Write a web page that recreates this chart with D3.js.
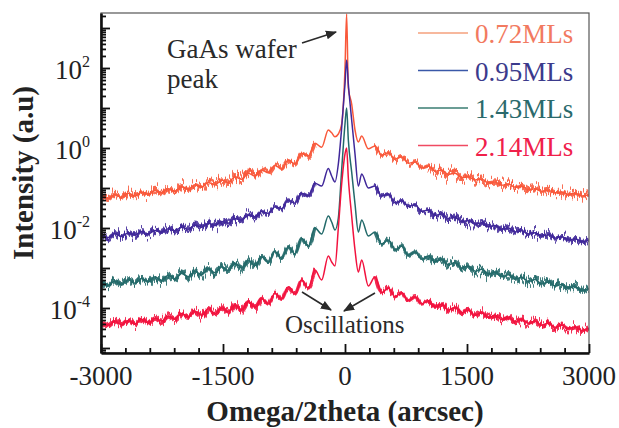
<!DOCTYPE html>
<html>
<head>
<meta charset="utf-8">
<script src="https://cdn.jsdelivr.net/npm/d3@7"></script>
<style>
  html, body { margin: 0; padding: 0; background: #fff; }
  svg { display: block; }
</style>
</head>
<body>
<script>
// sample positions (arcsec) shared by all four scans
const omega = [
  -2993, -2911, -2829, -2747, -2665, -2583, -2501, -2419, -2337, -2255,
  -2173, -2091, -2009, -1927, -1845, -1763, -1681, -1599, -1517, -1435,
  -1353, -1271, -1189, -1107, -1025, -943, -861, -779, -697, -615,
  -533, -451, -369, -287, -205,
  -164, -123, -82, -41, 0, 20, 41, 82, 123, 164,
  205, 287, 369, 451, 533, 615, 697, 779, 861, 943,
  1025, 1107, 1189, 1271, 1353, 1435, 1517, 1599, 1681, 1763,
  1845, 1927, 2009, 2091, 2173, 2255, 2337, 2419, 2501, 2583,
  2665, 2747, 2829, 2911, 2993
];

// log10(intensity), one value per omega sample
const logI072 = [
  -1.18, -1.26, -1.16, -1.23, -1.13, -1.20, -1.10, -1.16, -1.06, -1.12,
  -1.02, -1.08, -0.97, -1.03, -0.92, -0.98, -0.86, -0.92, -0.80, -0.86,
  -0.72, -0.78, -0.63, -0.70, -0.55, -0.62, -0.43, -0.53, -0.30, -0.40,
  -0.13, -0.20, 0.12, 0.02, 0.45,
  0.38, 0.28, 0.35, 0.60, 2.00, 3.35, 1.50, 1.10, 0.45, 0.15,
  0.30, -0.02, 0.05, -0.18, -0.12, -0.28, -0.22, -0.38, -0.35, -0.50,
  -0.45, -0.58, -0.55, -0.66, -0.63, -0.74, -0.72, -0.80, -0.78, -0.87,
  -0.85, -0.93, -0.90, -0.98, -0.96, -1.04, -1.02, -1.08, -1.06, -1.12,
  -1.10, -1.16, -1.13, -1.20, -1.17
];
const logI095 = [
  -2.16, -2.24, -2.14, -2.21, -2.12, -2.18, -2.09, -2.15, -2.06, -2.11,
  -2.02, -2.07, -1.98, -2.03, -1.93, -1.98, -1.88, -1.94, -1.84, -1.88,
  -1.76, -1.80, -1.68, -1.72, -1.59, -1.63, -1.47, -1.52, -1.30, -1.38,
  -1.13, -1.20, -0.88, -0.95, -0.51,
  -0.70, -0.85, -0.40, 0.50, 1.60, 2.20, 1.60, 0.70, -0.15, -0.95,
  -0.65, -1.00, -0.95, -1.20, -1.15, -1.37, -1.32, -1.46, -1.42, -1.58,
  -1.55, -1.68, -1.65, -1.76, -1.73, -1.84, -1.81, -1.90, -1.87, -1.97,
  -1.94, -2.03, -2.00, -2.10, -2.07, -2.15, -2.12, -2.20, -2.17, -2.25,
  -2.22, -2.30, -2.27, -2.34, -2.31
];
const logI143 = [
  -3.34, -3.44, -3.32, -3.41, -3.29, -3.38, -3.26, -3.35, -3.22, -3.31,
  -3.18, -3.27, -3.13, -3.22, -3.08, -3.17, -3.02, -3.12, -2.97, -3.06,
  -2.88, -3.00, -2.80, -2.94, -2.72, -2.86, -2.59, -2.76, -2.47, -2.65,
  -2.26, -2.45, -2.00, -2.15, -1.70,
  -1.85, -2.05, -1.75, -0.55, 0.60, 1.00, 0.20, -0.60, -1.40, -2.10,
  -1.80, -2.20, -2.10, -2.40, -2.30, -2.55, -2.45, -2.68, -2.60, -2.78,
  -2.70, -2.85, -2.78, -2.92, -2.86, -3.00, -2.95, -3.08, -3.03, -3.15,
  -3.10, -3.22, -3.17, -3.28, -3.23, -3.34, -3.29, -3.40, -3.35, -3.45,
  -3.41, -3.50, -3.46, -3.56, -3.52
];
const logI214 = [
  -4.35, -4.44, -4.33, -4.42, -4.31, -4.40, -4.28, -4.37, -4.25, -4.33,
  -4.20, -4.28, -4.14, -4.23, -4.08, -4.18, -4.02, -4.14, -4.00, -4.10,
  -3.92, -4.05, -3.84, -3.98, -3.76, -3.90, -3.63, -3.78, -3.47, -3.65,
  -3.30, -3.50, -3.05, -3.30, -2.70,
  -2.85, -2.95, -2.00, -0.90, -0.15, 0.00, -0.75, -1.70, -2.55, -3.10,
  -2.80, -3.45, -3.22, -3.62, -3.50, -3.72, -3.62, -3.82, -3.72, -3.90,
  -3.82, -3.98, -3.90, -4.05, -3.98, -4.12, -4.06, -4.18, -4.12, -4.24,
  -4.18, -4.29, -4.23, -4.34, -4.28, -4.38, -4.33, -4.43, -4.38, -4.48,
  -4.43, -4.52, -4.47, -4.56, -4.50
];

const seriesNames = ['0.72MLs', '0.95MLs', '1.43MLs', '2.14MLs'];
const seriesValues = [logI072, logI095, logI143, logI214];

const xTickLabels = [-3000, -1500, 0, 1500, 3000];
const yTickExps = [2, 0, -2, -4];

// styling
const lineColors = ['#f9583a', '#40289a', '#236a6a', '#f2123e'];
const keyColors = ['#f5a07c', '#3a58a8', '#3a7c72', '#f04a62'];
const textColors = ['#f27a60', '#3b3a8c', '#2a6a6c', '#f0204a'];
const fuzzNear = [14, 12, 12, 10];
const fuzzFar = [26, 22, 22, 18];

const W = 619, H = 428;
const plot = {left: 101, right: 589, top: 13, bottom: 353};
const serif = '"Liberation Serif", "Times New Roman", serif';

const svg = d3.select('body').append('svg')
  .attr('width', W)
  .attr('height', H);

const x = d3.scaleLinear().domain([-3000, 3000]).range([plot.left, plot.right]);
const y = d3.scaleLog().domain([Math.pow(10, -5.125), Math.pow(10, 3.375)]).range([plot.bottom, plot.top]);

const defs = svg.append('defs');
defs.append('clipPath').attr('id', 'plotClip')
  .append('rect')
  .attr('x', plot.left).attr('y', plot.top)
  .attr('width', plot.right - plot.left).attr('height', plot.bottom - plot.top);

// jagged noise texture for the far wings of each scan
function addFuzz(id, scale, freq, seed) {
  const f = defs.append('filter').attr('id', id)
    .attr('filterUnits', 'userSpaceOnUse')
    .attr('x', 0).attr('y', 0).attr('width', W).attr('height', H)
    .attr('color-interpolation-filters', 'sRGB');
  f.append('feTurbulence').attr('type', 'fractalNoise')
    .attr('baseFrequency', freq + ' 0.02').attr('numOctaves', 2).attr('seed', seed).attr('result', 't');
  f.append('feColorMatrix').attr('in', 't').attr('type', 'matrix')
    .attr('values', '0 0 0 0 0.5  0 1 0 0 0  0 0 0 0 0  0 0 0 0 1').attr('result', 'm');
  f.append('feDisplacementMap').attr('in', 'SourceGraphic').attr('in2', 'm')
    .attr('scale', scale).attr('xChannelSelector', 'R').attr('yChannelSelector', 'G');
}
seriesNames.forEach((n, i) => {
  addFuzz('fuzzA' + i, fuzzNear[i], 0.5, 3 + i);
  addFuzz('fuzzB' + i, fuzzFar[i], 0.8, 11 + i);
});

const arrowHead = defs.append('marker').attr('id', 'arrow')
  .attr('viewBox', '0 0 10 10').attr('refX', 9).attr('refY', 5)
  .attr('markerWidth', 7).attr('markerHeight', 7).attr('orient', 'auto');
arrowHead.append('path').attr('d', 'M0,1 L10,5 L0,9 Z').attr('fill', '#2a2a2a');

const series = seriesNames.map((name, i) => ({
  name, i,
  points: omega.map((o, k) => ({x: o, l: seriesValues[i][k]}))
}));

const curves = svg.append('g').attr('clip-path', 'url(#plotClip)');

const line = d3.line()
  .x(d => x(d.x))
  .y(d => y(Math.pow(10, d.l)))
  .curve(d3.curveMonotoneX);

series.forEach(s => {
  const g = curves.append('g');
  g.append('path')
    .datum(s.points)
    .attr('fill', 'none')
    .attr('stroke', lineColors[s.i])
    .attr('stroke-width', 3.4)
    .attr('opacity', 0.9)
    .attr('filter', `url(#fuzzA${s.i})`)
    .attr('d', line.defined(d => Math.abs(d.x) >= 360));
  g.append('path')
    .datum(s.points)
    .attr('fill', 'none')
    .attr('stroke', lineColors[s.i])
    .attr('stroke-width', 3.4)
    .attr('opacity', 0.85)
    .attr('filter', `url(#fuzzB${s.i})`)
    .attr('d', line.defined(d => Math.abs(d.x) >= 1000));
  g.append('path')
    .datum(s.points)
    .attr('fill', 'none')
    .attr('stroke', lineColors[s.i])
    .attr('stroke-width', 1.5)
    .attr('d', line.defined(() => true));
});

// frame
svg.append('rect')
  .attr('x', plot.left).attr('y', plot.top)
  .attr('width', plot.right - plot.left).attr('height', plot.bottom - plot.top)
  .attr('fill', 'none').attr('stroke', '#555').attr('stroke-width', 1.2);

// x axis, ticks pointing inward
const xTicks = d3.range(-3000, 3001, 300);
const xAxis = svg.append('g')
  .attr('transform', `translate(0,${plot.bottom})`)
  .call(d3.axisBottom(x).tickValues(xTicks).tickSize(-5).tickSizeOuter(0).tickFormat(''));
xAxis.select('.domain').attr('stroke', '#111').attr('stroke-width', 2.4);
xAxis.selectAll('.tick line').attr('stroke', '#111').attr('stroke-width', 1.8)
  .attr('y2', d => (d % 1500 === 0 ? -9 : -5));

svg.append('g').selectAll('text')
  .data(xTickLabels)
  .join('text')
  .attr('x', d => x(d))
  .attr('y', plot.bottom + 32)
  .attr('text-anchor', 'middle')
  .attr('font-family', serif)
  .attr('font-size', 27)
  .attr('fill', '#222')
  .text(d => d);

// y axis (log), minor ticks at 2..9
const yTicks = [];
for (let e = -6; e <= 3; e++) {
  for (let m = 1; m <= 9; m++) {
    const v = m * Math.pow(10, e);
    if (v >= y.domain()[0] && v <= y.domain()[1]) yTicks.push({v, major: m === 1});
  }
}
const yAxis = svg.append('g')
  .attr('transform', `translate(${plot.left},0)`)
  .call(d3.axisLeft(y).tickValues(yTicks.map(t => t.v)).tickSize(-5).tickSizeOuter(0).tickFormat(''));
yAxis.select('.domain').attr('stroke', '#111').attr('stroke-width', 2.6);
yAxis.selectAll('.tick line')
  .data(yTicks)
  .attr('stroke', '#111').attr('stroke-width', 1.8)
  .attr('x2', d => (d.major ? 9 : 5));

const yLab = svg.append('g').selectAll('text')
  .data(yTickExps)
  .join('text')
  .attr('x', 90)
  .attr('y', d => y(Math.pow(10, d)) + 11)
  .attr('text-anchor', 'end')
  .attr('font-family', serif)
  .attr('font-size', 27)
  .attr('fill', '#222');
yLab.append('tspan').text('10');
yLab.append('tspan').attr('dy', -12).attr('font-size', 16).text(d => d);

// axis titles
svg.append('text')
  .attr('x', 345).attr('y', 421)
  .attr('text-anchor', 'middle')
  .attr('font-family', serif).attr('font-weight', 'bold').attr('font-size', 29)
  .attr('fill', '#222')
  .text('Omega/2theta (arcsec)');

svg.append('text')
  .attr('transform', 'translate(33,173) rotate(-90)')
  .attr('text-anchor', 'middle')
  .attr('font-family', serif).attr('font-weight', 'bold').attr('font-size', 29)
  .attr('fill', '#222')
  .text('Intensity (a.u)');

// legend
const legend = svg.append('g').selectAll('g')
  .data(series)
  .join('g')
  .attr('transform', (d, i) => `translate(418,${33 + i * 37.5})`);
legend.append('line')
  .attr('x1', 0).attr('x2', 50).attr('y1', 0).attr('y2', 0)
  .attr('stroke', d => keyColors[d.i]).attr('stroke-width', 1.6);
legend.append('text')
  .attr('x', 57).attr('y', 10)
  .attr('font-family', serif).attr('font-size', 27)
  .attr('fill', d => textColors[d.i])
  .text(d => d.name);

// annotations
const note = svg.append('g').attr('font-family', serif).attr('font-size', 27).attr('fill', '#2a2a2a');
note.append('text').attr('x', 167).attr('y', 58).text('GaAs wafer');
note.append('text').attr('x', 167).attr('y', 88).text('peak');
note.append('text').attr('x', 285).attr('y', 333).attr('font-size', 25).text('Oscillations');

const arrows = [
  [302, 43, 336, 32],
  [302, 292, 331, 310],
  [375, 293, 344, 311]
];
svg.append('g').selectAll('line')
  .data(arrows)
  .join('line')
  .attr('x1', d => d[0]).attr('y1', d => d[1])
  .attr('x2', d => d[2]).attr('y2', d => d[3])
  .attr('stroke', '#2a2a2a').attr('stroke-width', 1.6)
  .attr('marker-end', 'url(#arrow)');
</script>
</body>
</html>
